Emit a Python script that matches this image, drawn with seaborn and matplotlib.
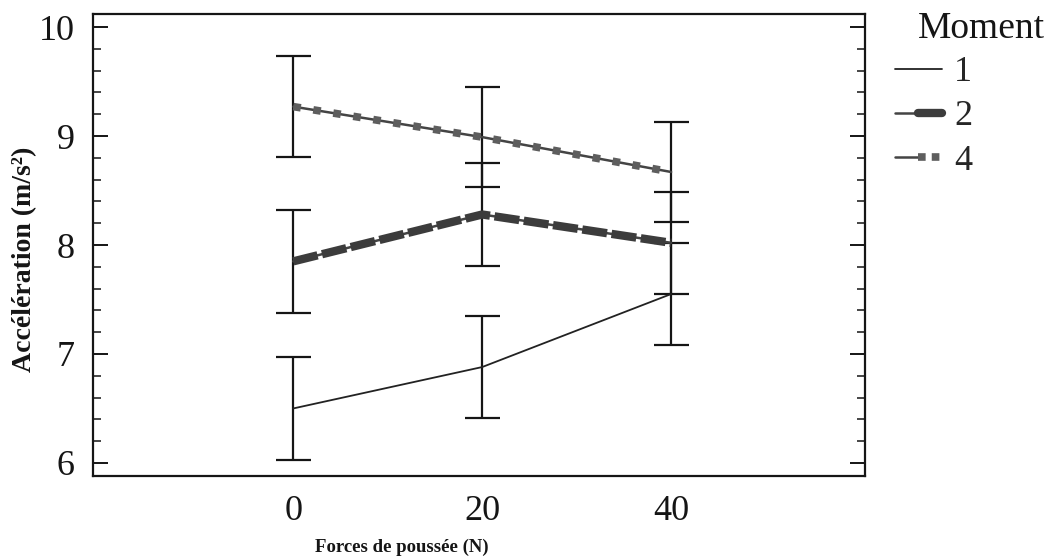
import matplotlib
matplotlib.use("Agg")
import matplotlib.pyplot as plt
from matplotlib.ticker import MultipleLocator
from matplotlib.lines import Line2D
from matplotlib.legend_handler import HandlerTuple
import seaborn as sns
import pandas as pd

# ---- data ----
forces = [0, 20, 40]
moments = ["1", "2", "4"]
accel_m1 = [6.50, 6.88, 7.55]
accel_m2 = [7.85, 8.28, 8.02]
accel_m4 = [9.27, 8.99, 8.67]
err_m1 = [0.47, 0.47, 0.47]
err_m2 = [0.47, 0.47, 0.47]
err_m4 = [0.46, 0.46, 0.46]

series = {"1": (accel_m1, err_m1), "2": (accel_m2, err_m2), "4": (accel_m4, err_m4)}

rows = []
for m in moments:
    vals, errs = series[m]
    for f, v, e in zip(forces, vals, errs):
        rows.append({"Force": f, "Accel": v, "Err": e, "Moment": m})
df = pd.DataFrame(rows)

sns.set_theme(style="white")
plt.rcParams["font.family"] = ["Liberation Serif", "DejaVu Serif"]

fig = plt.figure(figsize=(10.5, 5.6), dpi=100)
ax = fig.add_axes([0.0886, 0.15, 0.735, 0.825])

INK = "#151515"
styles = {
    "1": dict(color="#222222", lw=1.3, dashes=None),
    "2": dict(color="#3c3c3c", lw=6.0, dashes=(3.0, 0.55)),
    "4": dict(color="#5e5e5e", lw=5.5, dashes=(1.0, 1.65)),
}

# error bars
for m in moments:
    sub = df[df["Moment"] == m]
    ax.errorbar(sub["Force"], sub["Accel"], yerr=sub["Err"], fmt="none",
                ecolor=INK, elinewidth=1.6, capsize=12.6, capthick=1.6, zorder=2)

# thin connecting lines under the thick patterned series
for m in ["2", "4"]:
    sub = df[df["Moment"] == m]
    sns.lineplot(data=sub, x="Force", y="Accel", ax=ax, color="#444444", lw=1.8,
                 legend=False, zorder=3)

for m in moments:
    sub = df[df["Moment"] == m]
    st = styles[m]
    sns.lineplot(data=sub, x="Force", y="Accel", ax=ax, color=st["color"],
                 lw=st["lw"], legend=False, zorder=4)
    ln = ax.lines[-1]
    if st["dashes"] is not None:
        ln.set_dashes(st["dashes"])
        ln.set_dash_capstyle("butt")

ax.set_xlim(-21.2, 60.5)
ax.set_ylim(5.88, 10.12)
ax.set_xticks(forces)
ax.set_xticklabels([str(f) for f in forces])
ax.yaxis.set_major_locator(MultipleLocator(1))
ax.yaxis.set_minor_locator(MultipleLocator(0.2))
ax.tick_params(axis="y", which="major", direction="in", length=11, width=1.4,
               left=True, right=True, labelsize=26, pad=13, colors=INK)
ax.tick_params(axis="y", which="minor", direction="in", length=6, width=1.2,
               left=True, right=True)
ax.tick_params(axis="x", length=0, labelsize=26, pad=14, colors=INK)
for s in ax.spines.values():
    s.set_color(INK)
    s.set_linewidth(1.6)

ax.set_xlabel("Forces de poussée (N)", fontsize=13.5, fontweight="bold", color=INK, va="top")
ax.xaxis.set_label_coords(0.40, -0.135)
ax.set_ylabel("Accélération (m/s²)", fontsize=20, fontweight="bold", color=INK)
ax.yaxis.set_label_coords(-0.072, 0.47)
ax.grid(False)

thin = dict(color="#444444", lw=1.8)
h1 = Line2D([0], [0], color="#222222", lw=1.3)
h2 = (Line2D([0], [0], **thin), Line2D([0], [0], color="#3c3c3c", lw=6.0))
h4 = (Line2D([0], [0], **thin),
      Line2D([0], [0], color="#5e5e5e", lw=5.5, dashes=(1.0, 0.8)))
leg = fig.legend([h1, h2, h4], moments, loc="upper left",
                 bbox_to_anchor=(0.852, 0.90), frameon=False, fontsize=26,
                 handlelength=1.3, handletextpad=0.35, labelspacing=0.3,
                 borderaxespad=0.0, borderpad=0.0,
                 handler_map={tuple: HandlerTuple(ndivide=None, pad=0)})
fig.text(918 / 1050, 1 - 11 / 560, "Moment", fontsize=27, color=INK,
         ha="left", va="top")

fig.savefig("out.png", dpi=100, facecolor="white")
